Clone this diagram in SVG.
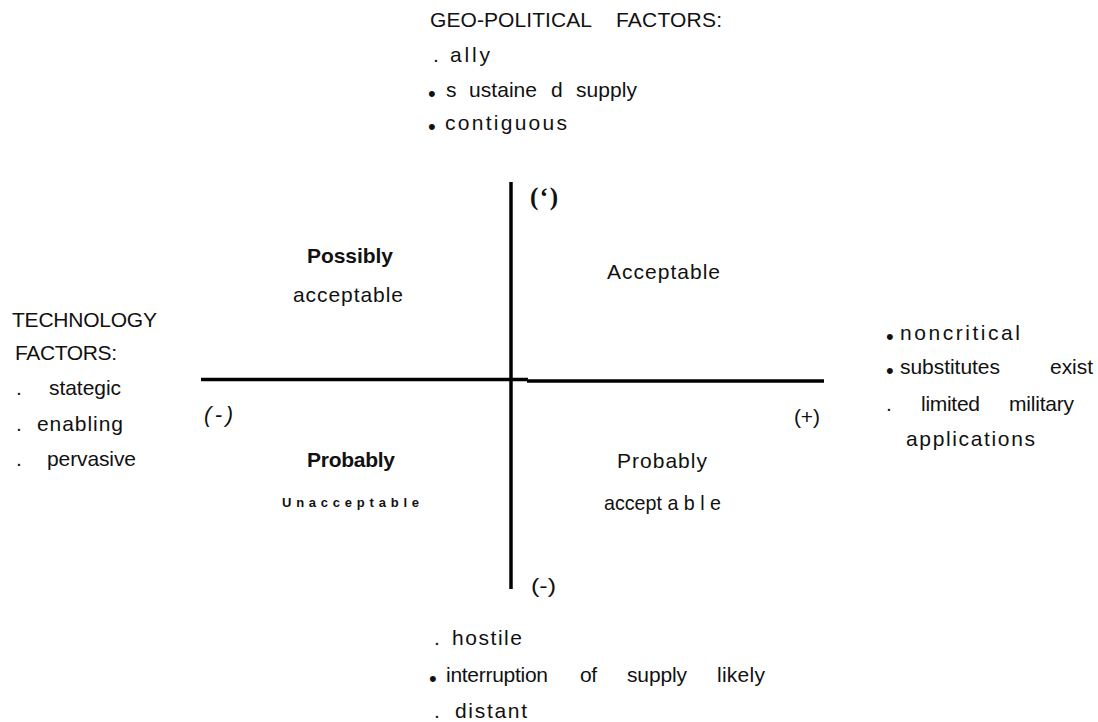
<svg xmlns="http://www.w3.org/2000/svg" width="1098" height="722" viewBox="0 0 1098 722">
<style>
  text { font-family: "Liberation Sans", Arial, sans-serif; font-size: 21px; fill: #111; }
  .b { font-weight: bold; }
  .bl { font-size: 22px; }
  .sm { font-size: 13px; font-weight: bold; }
  .it { font-style: italic; font-size: 22px; }
  .srf { font-family: "Liberation Serif", "Times New Roman", serif; font-weight: bold; font-size: 25px; }
  .ax { stroke: #000; stroke-width: 3.5; fill: none; }
</style>
<rect width="1098" height="722" fill="#fff"/>

<g id="axes">
  <line class="ax" x1="511" y1="182" x2="511" y2="589"/>
  <line class="ax" x1="201" y1="379.5" x2="528" y2="379.5"/>
  <line class="ax" x1="527" y1="381" x2="824" y2="381"/>
</g>

<g id="geo-political-positive">
  <text x="430" y="27" textLength="162">GEO-POLITICAL</text>
  <text x="616" y="27" textLength="106">FACTORS:</text>
  <text x="433" y="62">.</text>
  <text x="450" y="62" textLength="40">ally</text>
  <text class="bl" x="428" y="101">•</text>
  <text x="446" y="97">s</text>
  <text x="469" y="97" textLength="68">ustaine</text>
  <text x="551" y="97">d</text>
  <text x="576" y="97" textLength="61">supply</text>
  <text class="bl" x="428" y="134">•</text>
  <text x="445" y="130" textLength="122">contiguous</text>
</g>

<g id="top-axis-label">
  <text class="srf" x="530" y="205" textLength="28">(‘)</text>
</g>

<g id="q-possibly-acceptable">
  <text class="b" x="307" y="263" textLength="86">Possibly</text>
  <text x="293" y="302" textLength="110">acceptable</text>
</g>

<g id="q-acceptable">
  <text x="607" y="279" textLength="113">Acceptable</text>
</g>

<g id="technology-factors">
  <text x="12" y="327" textLength="145">TECHNOLOGY</text>
  <text x="15" y="360" textLength="102">FACTORS:</text>
  <text x="16" y="395">.</text>
  <text x="49" y="395" textLength="72">stategic</text>
  <text x="16" y="431">.</text>
  <text x="37" y="431" textLength="86">enabling</text>
  <text x="16" y="466">.</text>
  <text x="47" y="466" textLength="89">pervasive</text>
</g>

<g id="left-axis-label">
  <text class="it" x="204" y="422" textLength="29">(-)</text>
</g>

<g id="right-axis-label">
  <text x="794" y="424" textLength="26">(+)</text>
</g>

<g id="q-probably-unacceptable">
  <text class="b" x="307" y="467" textLength="88">Probably</text>
  <text class="sm" x="282" y="507" textLength="137">Unacceptable</text>
</g>

<g id="q-probably-acceptable">
  <text x="617" y="468" textLength="90">Probably</text>
  <text x="604" y="510" font-size="20" textLength="117" lengthAdjust="spacingAndGlyphs">accept a b l e</text>
</g>

<g id="technology-positive">
  <text class="bl" x="886" y="344">•</text>
  <text x="900" y="340" textLength="120">noncritical</text>
  <text class="bl" x="886" y="378">•</text>
  <text x="900" y="374" textLength="100">substitutes</text>
  <text x="1050" y="374" textLength="43">exist</text>
  <text x="886" y="411">.</text>
  <text x="921" y="411" textLength="59">limited</text>
  <text x="1009" y="411" textLength="65">military</text>
  <text x="906" y="446" textLength="129">applications</text>
</g>

<g id="bottom-axis-label">
  <text x="531" y="593" font-size="25" textLength="25" lengthAdjust="spacingAndGlyphs">(-)</text>
</g>

<g id="geo-political-negative">
  <text x="434" y="645">.</text>
  <text x="452" y="645" textLength="70">hostile</text>
  <text class="bl" x="429" y="686">•</text>
  <text x="446" y="682" textLength="102">interruption</text>
  <text x="580" y="682" textLength="17">of</text>
  <text x="627" y="682" textLength="60">supply</text>
  <text x="717" y="682" textLength="48">likely</text>
  <text x="434" y="718">.</text>
  <text x="455" y="718" textLength="72">distant</text>
</g>
</svg>
